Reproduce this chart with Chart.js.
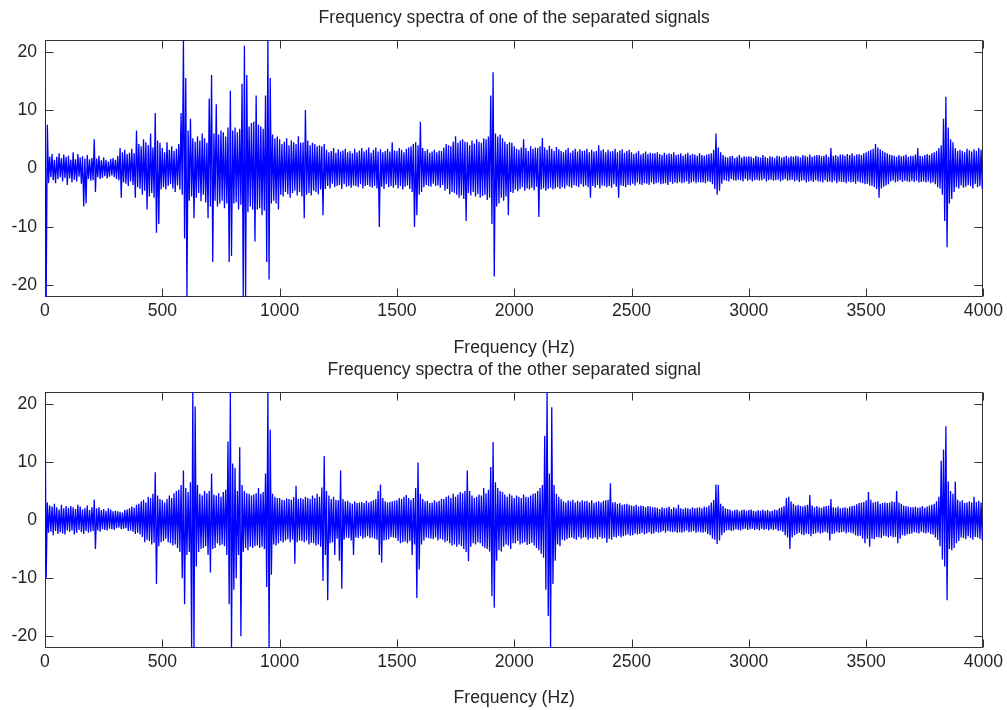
<!DOCTYPE html>
<html>
<head>
<meta charset="utf-8">
<script src="https://cdn.jsdelivr.net/npm/chart.js@4.4.1/dist/chart.umd.min.js"></script>
<style>
    html, body { margin: 0; padding: 0; background: #fff; }
    body { width: 1007px; height: 710px; position: relative; overflow: hidden; }
    canvas { position: absolute; left: 0; }
    #chartTop { top: 0; }
    #chartBottom { top: 355px; }
</style>
</head>
<body>
<canvas id="chartTop" width="1007" height="362"></canvas>
<canvas id="chartBottom" width="1007" height="355"></canvas>
<script>
// ── Dados (uma amostra a cada 5 Hz) ───────────────────────────────────────
const binHz = 5;
const xTickVals = [0, 500, 1000, 1500, 2000, 2500, 3000, 3500, 4000];
const yTickVals = [-20, -10, 0, 10, 20];

// Sinal 1: "one of the separated signals"
const sig1_0_1000 = [
    14, -22, 7.5, -2.5, 2, -1.5, 2.5, -2, 1.5, -2.5, 2, -1.8, 2.6, -1.5, 1.8, -2.2, 2.4, -1.6, 2, -2.8,
    2.2, -1.7, 1.5, -2.4, 2.8, -1.9, 1.6, -2.2, 2.5, -1.4, 1.9, -2.6, 2.1, -6.5, 1.7, -6, 2.3, -1.8, 1.6, -2.1,
    1.8, -2.0, 5, -4, 1.7, -1.5, 2.2, -1.8, 1.4, -1.6, 1.9, -1.3, 1.5, -1.7, 1.2, -1.4, 1.6, -1.2, 1.8, -1.5,
    1.5, -1.8, 2.2, -2.0, 3.5, -5, 2.8, -2.4, 3.2, -2.6, 2.5, -3.0, 2.7, -2.2, 3.4, -2.8, 2.6, -5, 6.5, -3.2,
    4.2, -3.5, 3.8, -4.5, 5, -3.8, 4.5, -7, 4.0, -4.8, 6, -4.2, 3.6, -5, 9.5, -11, 4.8, -9.5, 4.4, -3.6,
    3.5, -3.2, 2.8, -3.6, 4.5, -3.0, 3.2, -2.7, 3.8, -3.4, 3.0, -4.0, 3.4, -2.9, 4.2, -3.6, 9.5, -4.5, 22, -12,
    15.5, -22, 6.5, -5.5, 8.5, -4.8, 5.2, -8.5, 4.6, -5.0, 5.5, -4.2, 4.8, -5.6, 6.0, -4.5, 5.2, -5.8, 4.4, -8.5,
    12, -6.5, 16, -16, 6.0, -5.5, 11, -6.5, 5.8, -6.0, 6.5, -5.5, 6.2, -6.8, 5.5, -6.0, 7.0, -16, 13.3, -15,
    6.5, -6.0, 7.0, -5.8, 6.2, -7.0, 6.8, -6.2, 14.5, -22, 21, -22, 16, -7.5, 7.2, -6.5, 7.8, -7.0, 8.0, -12.5,
    12.5, -7.0, 7.5, -6.8, 7.2, -8, 6.8, -7.2, 12.5, -16, 22, -19, 15.5, -6.0, 5.8, -5.5, 5.2, -6.0, 5.5, -7
];
const sig1_1000_2000 = [
    5.0, -4.5, 4.2, -4.8, 4.6, -4.0, 5.2, -4.4, 4.0, -5.0, 4.8, -4.2, 4.5, -3.8, 4.2, -4.6, 5.5, -4.0, 4.4, -4.8,
    4.5, -8.5, 10, -4.5, 4.8, -4.2, 4.0, -4.6, 4.4, -3.8, 4.2, -4.0, 3.8, -4.4, 4.0, -3.6, 3.8, -8, 4.2, -3.5,
    3.2, -3.0, 2.8, -3.4, 3.0, -2.6, 3.5, -3.2, 2.7, -3.0, 3.3, -2.8, 2.9, -3.5, 3.1, -2.7, 3.4, -3.1, 2.8, -3.0,
    3.0, -3.3, 2.6, -2.9, 3.4, -3.0, 2.8, -3.2, 3.1, -2.7, 3.5, -3.4, 2.9, -3.0, 3.2, -2.8, 3.6, -3.1, 2.7, -3.3,
    3.2, -3.0, 3.6, -3.4, 2.9, -10, 3.3, -3.1, 2.8, -3.5, 3.0, -2.7, 3.4, -3.2, 2.9, -3.0, 4.5, -3.3, 3.1, -2.8,
    3.0, -3.4, 3.5, -3.0, 3.2, -3.6, 2.8, -3.1, 3.4, -2.9, 3.6, -3.5, 3.8, -4.0, 4.2, -10, 4.5, -8, 4.0, -4.5,
    8.0, -4.0, 3.5, -3.2, 3.0, -2.8, 3.3, -3.0, 2.7, -3.1, 2.9, -2.6, 3.2, -3.0, 2.8, -2.9, 3.1, -3.3, 3.0, -2.8,
    3.6, -3.8, 4.2, -3.5, 4.0, -4.4, 3.8, -4.0, 4.6, -4.2, 5.5, -4.5, 4.4, -5.0, 4.8, -4.6, 5.0, -5.2, 4.6, -9,
    4.5, -4.2, 4.0, -4.6, 4.8, -4.0, 4.3, -4.8, 5.0, -4.4, 4.6, -5.0, 4.4, -4.7, 5.2, -4.5, 5.0, -5.4, 5.5, -5.0,
    12.5, -9.5, 16.5, -18.5, 6.0, -6.5, 5.5, -6.0, 5.8, -5.0, 5.2, -5.5, 4.6, -4.8, 4.2, -8, 4.5, -4.0, 4.4, -4.2
];
const sig1_2000_3000 = [
    3.8, -3.6, 3.4, -3.9, 3.2, -3.5, 3.6, -3.2, 5.0, -3.8, 3.5, -3.4, 3.0, -3.6, 3.8, -3.3, 3.4, -3.7, 3.6, -3.1,
    3.5, -8.3, 3.8, -3.6, 5.2, -3.4, 3.6, -3.8, 3.2, -3.5, 3.9, -3.3, 3.4, -3.6, 3.0, -3.4, 3.7, -3.2, 3.3, -3.5,
    3.0, -3.2, 2.8, -3.4, 3.2, -2.9, 3.5, -3.1, 2.7, -3.3, 3.1, -2.8, 3.4, -3.0, 2.9, -3.2, 3.3, -2.7, 3.0, -3.1,
    3.1, -2.9, 3.4, -3.2, 2.8, -5, 3.2, -3.0, 2.9, -3.3, 3.0, -2.8, 4.0, -3.4, 3.1, -2.9, 3.3, -3.0, 2.8, -3.2,
    3.2, -3.0, 2.9, -3.3, 3.0, -2.7, 3.4, -3.1, 2.8, -5, 3.1, -2.9, 3.3, -3.0, 2.7, -3.2, 3.0, -2.8, 3.2, -2.9,
    2.8, -2.6, 2.5, -2.9, 2.7, -2.4, 3.0, -2.7, 2.4, -2.8, 2.6, -2.5, 2.9, -2.6, 2.5, -2.8, 2.7, -2.4, 2.6, -2.7,
    2.6, -2.5, 2.8, -2.4, 2.5, -2.7, 2.3, -2.6, 2.7, -2.5, 2.4, -2.8, 2.6, -2.3, 2.5, -2.6, 2.8, -2.4, 2.3, -2.5,
    2.4, -2.3, 2.6, -2.5, 2.2, -2.4, 2.5, -2.2, 2.7, -2.6, 2.3, -2.4, 2.5, -2.2, 2.4, -2.5, 2.2, -2.3, 2.6, -2.4,
    2.3, -2.4, 2.2, -2.5, 2.4, -2.2, 2.5, -2.3, 2.6, -2.7, 3.2, -3.5, 6.0, -4.5, 3.6, -3.8, 2.8, -2.6, 2.3, -2.0,
    2.0, -2.1, 1.9, -2.2, 2.1, -1.8, 2.2, -2.0, 1.8, -2.1, 2.0, -1.9, 2.3, -2.0, 1.9, -2.2, 2.1, -1.8, 2.0, -2.1
];
const sig1_3000_4000 = [
    2.1, -1.9, 2.0, -2.2, 1.8, -2.0, 2.2, -1.9, 2.0, -2.1, 1.9, -2.0, 2.3, -1.8, 2.0, -2.2, 1.8, -2.0, 2.1, -1.9,
    2.0, -2.1, 1.8, -2.0, 2.2, -1.9, 2.1, -2.2, 1.9, -2.0, 2.0, -1.8, 2.2, -2.1, 1.9, -2.0, 2.1, -1.9, 2.0, -2.2,
    2.2, -2.0, 2.1, -2.3, 1.9, -2.1, 2.3, -2.0, 2.2, -2.4, 2.0, -2.2, 2.4, -2.1, 2.0, -2.3, 2.2, -2.0, 2.3, -2.2,
    2.3, -2.2, 2.1, -2.4, 2.2, -2.0, 2.4, -2.3, 2.0, -2.2, 3.5, -2.4, 2.2, -2.1, 2.3, -2.5, 2.1, -2.2, 2.4, -2.3,
    2.4, -2.3, 2.2, -2.5, 2.5, -2.2, 2.3, -2.4, 2.6, -2.3, 2.2, -2.6, 2.4, -2.2, 2.5, -2.4, 2.3, -2.5, 2.6, -2.7,
    2.8, -2.6, 3.0, -2.9, 3.2, -3.0, 3.4, -3.2, 4.2, -3.5, 3.6, -5, 3.3, -3.4, 3.0, -3.1, 2.8, -2.9, 2.6, -2.7,
    2.4, -2.2, 2.3, -2.1, 2.2, -2.4, 2.0, -2.2, 2.3, -2.0, 2.1, -2.3, 2.2, -2.1, 2.4, -2.2, 2.0, -2.3, 2.2, -2.1,
    2.2, -2.3, 2.4, -2.1, 3.5, -2.4, 2.2, -2.3, 2.1, -2.2, 2.3, -2.4, 2.5, -2.2, 2.3, -2.5, 2.6, -2.4, 2.8, -2.7,
    3.0, -3.2, 3.5, -3.4, 4.0, -4.5, 8.5, -9, 12.3, -13.5, 7.0, -6.0, 5.0, -5.2, 4.5, -4.0, 3.5, -3.2, 3.0, -3.4,
    3.2, -2.9, 3.0, -3.3, 2.8, -3.1, 3.4, -2.8, 3.1, -3.0, 2.9, -3.4, 3.3, -2.7, 3.0, -3.2, 3.5, -3.0, 3.2, -3.5
];

// Sinal 2: "the other separated signal"
const sig2_0_1000 = [
    22, -10, 3.0, -2.2, 2.5, -2.0, 2.3, -2.6, 2.8, -1.9, 2.2, -2.4, 1.8, -2.1, 2.6, -2.3, 2.0, -2.5, 2.4, -1.8,
    2.1, -2.0, 2.4, -1.8, 2.2, -2.5, 1.9, -2.2, 2.6, -1.7, 2.3, -2.1, 1.8, -2.4, 2.0, -1.9, 2.5, -2.2, 1.7, -2.0,
    2.2, -1.9, 3.5, -5, 2.0, -1.8, 2.2, -2.0, 1.7, -1.6, 1.9, -1.7, 1.6, -1.8, 2.0, -1.5, 1.8, -1.6, 1.5, -1.7,
    1.6, -1.4, 1.5, -1.3, 1.4, -1.6, 1.3, -1.5, 1.7, -1.4, 1.8, -1.9, 2.0, -1.8, 2.3, -2.0, 2.1, -2.4, 2.6, -2.2,
    2.8, -2.5, 3.2, -2.9, 3.5, -3.8, 3.0, -3.4, 4.0, -3.6, 3.8, -4.2, 4.5, -3.9, 8.2, -11, 4.2, -4.5, 3.6, -3.8,
    3.4, -3.6, 3.0, -3.2, 3.6, -3.8, 4.2, -4.0, 3.8, -4.4, 4.6, -4.2, 5.0, -4.8, 5.2, -5.5, 6.0, -10, 8.5, -14.5,
    5.5, -6.0, 4.8, -5.5, 6.5, -22, 22, -22, 19.5, -8, 6.0, -5.5, 4.5, -5.0, 4.2, -4.8, 5.0, -4.5, 4.6, -6,
    5.0, -9, 8, -5.0, 4.4, -4.8, 4.2, -4.0, 4.6, -4.4, 4.0, -4.2, 4.8, -4.5, 5.2, -6, 13.5, -14.5, 22, -22,
    9.7, -12, 9, -10, 5, -6, 12.5, -20, 6, -5.5, 5.0, -4.8, 4.6, -5.2, 4.5, -4.6, 4.2, -4.8, 4.4, -4.5,
    4.6, -4.4, 5.5, -4.8, 4.5, -4.6, 4.8, -5.0, 8, -11.5, 22, -22, 15.5, -9.4, 4.5, -4.2, 4.0, -4.4, 3.8, -4.0
];
const sig2_1000_2000 = [
    3.8, -3.6, 3.5, -3.9, 3.4, -3.5, 3.7, -3.3, 3.6, -3.8, 3.5, -3.4, 3.9, -7.5, 5.9, -3.8, 3.6, -3.5, 3.8, -3.6,
    3.6, -3.8, 4.0, -3.5, 3.8, -4.2, 3.6, -3.9, 4.2, -4.0, 3.8, -4.4, 4.5, -4.2, 4.0, -4.6, 5.6, -10.5, 11, -6,
    5, -13.8, 4.2, -4.0, 3.6, -3.8, 4, -6, 3.5, -3.2, 3.4, -7, 8.5, -11.8, 3.6, -3.4, 3.2, -3.0, 3.3, -3.1,
    3.0, -3.5, 2.8, -6, 3.2, -3.0, 2.9, -3.1, 3.0, -2.8, 3.1, -3.2, 2.9, -3.0, 3.3, -2.8, 3.0, -3.1, 3.2, -3.0,
    3.4, -3.2, 3.6, -3.4, 5, -6, 6.1, -7.3, 3.8, -3.5, 3.2, -3.4, 3.0, -3.3, 3.1, -2.9, 3.2, -3.0, 3.3, -3.1,
    3.4, -3.6, 3.8, -4.0, 3.6, -3.8, 4.0, -3.7, 4.3, -4.0, 3.8, -3.6, 3.5, -6, 3.8, -4.2, 5.5, -13.4, 9.9, -8.5,
    4.5, -4.2, 3.6, -3.5, 3.2, -3.0, 3.3, -3.1, 2.9, -3.2, 3.0, -3.3, 3.4, -3.0, 3.1, -3.5, 3.3, -3.2, 3.6, -3.4,
    3.6, -3.8, 4.0, -3.6, 4.2, -4.0, 3.8, -4.4, 4.5, -4.2, 4.0, -4.6, 4.4, -4.2, 4.8, -4.5, 4.6, -5.0, 5, -5.5,
    8.5, -7.1, 5.0, -4.6, 4.2, -4.0, 3.8, -4.2, 4.0, -3.8, 4.4, -4.0, 4.2, -4.5, 5.5, -4.8, 4.6, -5.0, 5.2, -5.4,
    9.1, -13.1, 13.4, -15.1, 6.5, -7, 5.5, -5.2, 5.0, -5.4, 4.8, -4.6, 4.4, -4.2, 4.0, -4.4, 4.5, -5, 4.2, -4.0
];
const sig2_2000_3000 = [
    3.8, -4.0, 4.2, -3.6, 4.0, -4.2, 3.8, -4.0, 4.4, -3.8, 4.0, -4.3, 3.9, -4.1, 4.2, -3.9, 4.5, -4.4, 4.6, -4.8,
    5.0, -5.2, 5.5, -5.8, 6.0, -6.5, 14.5, -12, 22, -16.5, 8, -22, 19.4, -11, 6, -7, 4.5, -4.2, 4.0, -4.5,
    3.6, -3.4, 3.2, -3.5, 3.0, -3.3, 3.4, -3.1, 3.2, -3.0, 3.5, -3.2, 3.0, -3.4, 3.3, -2.9, 3.1, -3.2, 3.4, -3.0,
    3.2, -3.0, 3.3, -3.4, 3.0, -3.1, 3.4, -3.2, 2.9, -3.0, 3.1, -3.3, 3.2, -2.9, 3.0, -3.2, 3.3, -3.1, 3.4, -3.9,
    3.5, -3.2, 6.3, -3.4, 3.0, -2.9, 3.1, -3.0, 2.8, -2.7, 2.9, -3.0, 2.6, -2.8, 2.7, -2.6, 2.8, -2.5, 2.6, -2.7,
    2.5, -2.6, 2.4, -2.3, 2.6, -2.5, 2.3, -2.4, 2.5, -2.2, 2.4, -2.5, 2.2, -2.3, 2.4, -2.1, 2.3, -2.4, 2.2, -2.3,
    2.2, -2.0, 2.1, -2.2, 1.9, -2.1, 2.2, -1.9, 2.0, -2.2, 2.1, -1.9, 2.3, -2.0, 1.9, -2.1, 2.2, -2.0, 2.0, -2.2,
    2.6, -2.1, 2.0, -2.2, 1.9, -2.0, 2.1, -1.8, 2.0, -2.1, 1.9, -2.0, 2.2, -1.9, 2.0, -2.2, 2.1, -2.0, 2.2, -2.1,
    2.0, -2.2, 2.3, -2.0, 2.2, -2.4, 2.5, -2.6, 3.0, -3.2, 3.5, -3.4, 6.1, -4.1, 6.0, -3.5, 2.8, -2.6, 2.4, -2.2,
    2.0, -1.8, 1.9, -1.7, 1.8, -1.9, 1.6, -1.8, 1.7, -1.6, 1.8, -1.7, 1.5, -1.8, 1.7, -1.6, 1.8, -1.5, 1.6, -1.7
];
const sig2_3000_4000 = [
    1.7, -1.6, 1.8, -1.5, 1.6, -1.7, 1.5, -1.6, 1.7, -1.8, 1.6, -1.5, 1.8, -1.7, 1.6, -1.6, 1.7, -1.8, 1.5, -1.6,
    1.6, -1.7, 1.8, -1.6, 1.7, -1.9, 2.0, -1.8, 2.2, -2.0, 2.4, -2.6, 3.8, -3.0, 4.0, -5, 3.2, -3.0, 2.8, -2.6,
    2.5, -2.4, 2.6, -2.2, 2.4, -2.5, 2.3, -2.6, 2.5, -2.3, 2.6, -2.4, 4.3, -2.8, 2.5, -2.4, 2.2, -2.3, 2.4, -2.1,
    2.2, -2.3, 2.1, -2.2, 2.3, -2.0, 2.4, -2.2, 2.5, -3.5, 3.6, -2.4, 2.2, -2.3, 2.1, -2.0, 2.3, -2.2, 2.0, -2.1,
    2.1, -2.0, 2.2, -2.3, 2.0, -2.1, 2.3, -2.2, 2.4, -2.3, 2.5, -2.6, 2.7, -2.8, 2.9, -2.7, 3.0, -3.2, 3.1, -4.0,
    3.4, -3.2, 4.8, -4.6, 3.5, -3.2, 3.0, -3.3, 3.1, -2.9, 3.2, -3.0, 2.8, -3.1, 2.9, -2.7, 3.0, -2.8, 2.9, -3.0,
    3.0, -2.8, 3.2, -3.0, 3.1, -2.9, 5.0, -4.0, 3.0, -3.2, 2.8, -2.6, 2.5, -2.7, 2.4, -2.5, 2.3, -2.4, 2.2, -2.3,
    2.2, -2.1, 2.3, -2.2, 2.1, -2.3, 2.2, -2.0, 2.4, -2.2, 2.1, -2.3, 2.3, -2.1, 2.5, -2.4, 2.6, -2.5, 2.8, -3.0,
    3.2, -3.4, 4.0, -4.5, 10.2, -6.8, 12.1, -8, 16.1, -13.8, 6.6, -5, 5.0, -5.2, 4.5, -4.8, 6.6, -4.0, 3.5, -3.6,
    3.2, -3.0, 3.4, -3.1, 2.9, -3.3, 3.0, -2.8, 3.2, -3.1, 3.0, -3.4, 4.0, -2.9, 3.1, -3.0, 3.3, -3.2, 3.0, -3.5
];

const sinal1 = [].concat(sig1_0_1000, sig1_1000_2000, sig1_2000_3000, sig1_3000_4000);
const sinal2 = [].concat(sig2_0_1000, sig2_1000_2000, sig2_2000_3000, sig2_3000_4000);

const FONT = '"Liberation Sans", Arial, Helvetica, sans-serif';
const AXIS_COLOR = '#333333';
const TEXT_COLOR = '#262626';

// Moldura e marcas internas (estilo MATLAB)
const boxTicks = {
    id: 'boxTicks',
    beforeDatasetsDraw(chart) {
        const { ctx, chartArea: a, scales } = chart;
        const L = Math.round(a.left) + 0.5, R = Math.round(a.right) - 0.5;
        const T = Math.round(a.top) + 0.5, B = Math.round(a.bottom) - 0.5;
        const len = 8;
        ctx.save();
        ctx.strokeStyle = AXIS_COLOR;
        ctx.lineWidth = 1;
        ctx.beginPath();
        ctx.rect(L, T, R - L, B - T);
        scales.x.ticks.forEach(t => {
            const px = Math.round(scales.x.getPixelForValue(t.value)) + 0.5;
            ctx.moveTo(px, B); ctx.lineTo(px, B - len);
            ctx.moveTo(px, T); ctx.lineTo(px, T + len);
        });
        scales.y.ticks.forEach(t => {
            const py = Math.round(scales.y.getPixelForValue(t.value)) + 0.5;
            ctx.moveTo(L, py); ctx.lineTo(L + len, py);
            ctx.moveTo(R, py); ctx.lineTo(R - len, py);
        });
        ctx.stroke();
        ctx.restore();
    }
};

function criarGrafico(canvasId, valores, titulo, cfg) {
    const pontos = valores.map((v, i) => ({ x: i * binHz, y: v }));
    return new Chart(document.getElementById(canvasId), {
        type: 'line',
        data: {
            datasets: [{
                data: pontos,
                borderColor: '#0000ff',
                borderWidth: 1.3,
                pointRadius: 0,
                tension: 0,
                fill: false
            }]
        },
        options: {
            responsive: false,
            animation: false,
            devicePixelRatio: 1,
            events: [],
            layout: { padding: { left: 0, right: 22, top: 0, bottom: 0 } },
            plugins: {
                legend: { display: false },
                tooltip: { enabled: false },
                title: {
                    display: true,
                    text: titulo,
                    fullSize: false,
                    color: TEXT_COLOR,
                    font: { family: FONT, size: 17.6, weight: 'normal', lineHeight: 1.2 },
                    padding: { top: cfg.titleTop, bottom: cfg.titleBottom }
                }
            },
            scales: {
                x: {
                    type: 'linear',
                    min: 0,
                    max: 4000,
                    afterBuildTicks: s => { s.ticks = xTickVals.map(v => ({ value: v })); },
                    afterFit: s => { s.height = cfg.xHeight; },
                    grid: { display: false, drawTicks: false },
                    border: { display: false },
                    ticks: {
                        autoSkip: false,
                        maxRotation: 0,
                        padding: 4,
                        color: TEXT_COLOR,
                        font: { family: FONT, size: 17.6 },
                        callback: v => String(v)
                    },
                    title: {
                        display: true,
                        text: 'Frequency (Hz)',
                        color: TEXT_COLOR,
                        font: { family: FONT, size: 17.6, lineHeight: 1.2 },
                        padding: { top: 0, bottom: cfg.xTitleBottom }
                    }
                },
                y: {
                    type: 'linear',
                    min: -22,
                    max: 22,
                    afterBuildTicks: s => { s.ticks = yTickVals.map(v => ({ value: v })); },
                    afterFit: s => { s.width = 45; },
                    grid: { display: false, drawTicks: false },
                    border: { display: false },
                    ticks: {
                        padding: 8,
                        color: TEXT_COLOR,
                        font: { family: FONT, size: 17.6 },
                        callback: v => String(v)
                    }
                }
            }
        },
        plugins: [boxTicks]
    });
}

criarGrafico('chartTop', sinal1, 'Frequency spectra of one of the separated signals',
    { titleTop: 7.4, titleBottom: 11.5, xHeight: 65, xTitleBottom: 3.4 });
criarGrafico('chartBottom', sinal2, 'Frequency spectra of the other separated signal',
    { titleTop: 4.4, titleBottom: 11.5, xHeight: 62, xTitleBottom: 1.4 });
</script>
</body>
</html>
